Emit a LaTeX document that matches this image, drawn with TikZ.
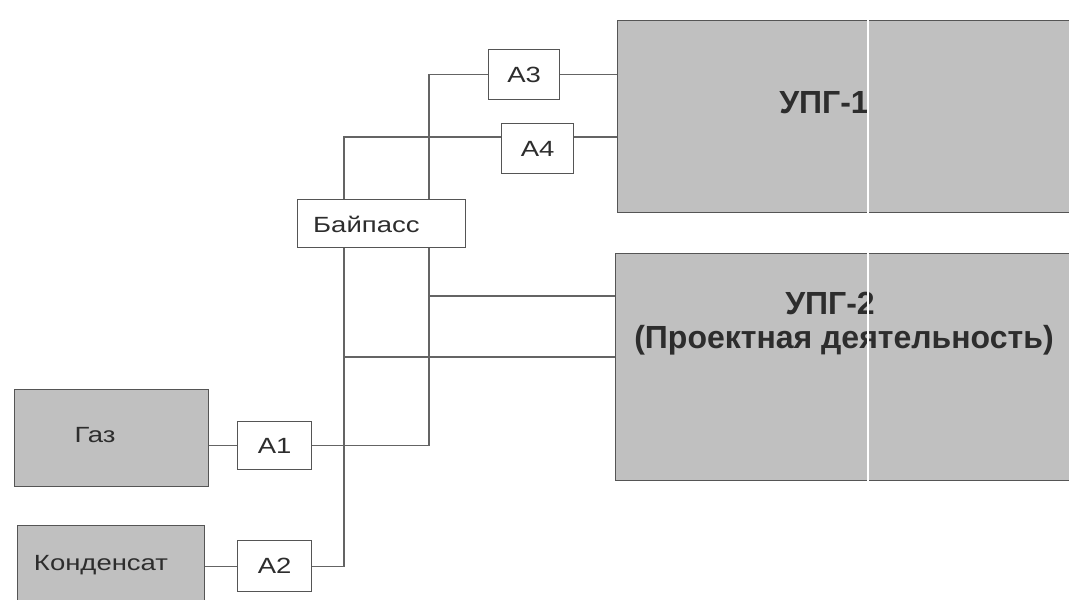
\documentclass[tikz,border=0pt]{standalone}
\usepackage{fontspec}
\setmainfont{Liberation Sans}
\definecolor{boxgray}{RGB}{192,192,192}
\definecolor{edge}{RGB}{85,85,85}
\definecolor{wire}{RGB}{100,100,100}
\definecolor{ink}{RGB}{45,45,45}
\newcommand{\wide}[1]{\scalebox{1.25}[1]{#1}}
\begin{document}
\begin{tikzpicture}[x=1pt,y=-1pt,
  label/.style={text=ink,font=\fontsize{22}{26}\selectfont,inner sep=0pt},
  valve/.style={draw=edge,line width=1.3pt,fill=white,inner sep=0pt,text=ink,font=\fontsize{22}{26}\selectfont},
  src/.style={draw=edge,line width=1.4pt,fill=boxgray,inner sep=0pt},
  plant/.style={draw=edge,line width=1.4pt,fill=boxgray,inner sep=0pt},
  wireline/.style={draw=wire,line width=1.2pt},
  big/.style={text=ink,font=\bfseries\fontsize{32}{38}\selectfont,inner sep=0pt}]
\useasboundingbox (0,0) rectangle (1069,600);
\clip (0,0) rectangle (1069,600);
% plants
\node[plant,minimum width=480pt,minimum height=192pt,anchor=north west] (upg1) at (617,20) {};
\node[plant,minimum width=480pt,minimum height=227pt,anchor=north west] (upg2) at (615,253) {};
\node[big] (t1) at (824,103) {УПГ-1};
\node[big] (t2) at (830,303) {УПГ-2};
\node[big] (t3) at (844,340) {(Проектная деятельность)};
% sources
\node[src,minimum width=194pt,minimum height=97pt,anchor=north west] (gas) at (14,389) {};
\node[label] (gast) at (95,435) {\wide{Газ}};
\node[src,minimum width=187pt,minimum height=90pt,anchor=north west] (cond) at (17,525) {};
\node[label] (condt) at (101,565) {\wide{Конденсат}};
% valves
\node[valve,minimum width=71pt,minimum height=50pt,anchor=north west] (A3) at (488,49) {\wide{A3}};
\node[valve,minimum width=72pt,minimum height=50pt,anchor=north west] (A4) at (501,123) {\wide{A4}};
\node[valve,minimum width=168pt,minimum height=48pt,anchor=north west] (byp) at (297,199) {};
\node[label,anchor=west] (bypt) at (313,224) {\wide{Байпасс}};
\node[valve,minimum width=74pt,minimum height=48pt,anchor=north west] (A1) at (237,421) {\wide{A1}};
\node[valve,minimum width=74pt,minimum height=51pt,anchor=north west] (A2) at (237,540) {\wide{A2}};
% junction coordinates
\coordinate (xr) at (429,0);
\coordinate (xl) at (344,0);
\coordinate (y137) at (0,137);
\coordinate (y296) at (0,296);
\coordinate (y357) at (0,357);
% connectors
\draw[wireline] (A3.east) -- (A3.east -| upg1.west);
\draw[wireline] (A3.west) -- (A3.west -| xr) -- (byp.north -| xr);
\draw[wireline] (A4.west |- y137) -- (xl |- y137) -- (byp.north -| xl);
\draw[wireline] (A4.east |- y137) -- (upg1.west |- y137);
\draw[wireline] (byp.south -| xr) -- (A1.east -| xr) -- (A1.east);
\draw[wireline] (byp.south -| xl) -- (A2.east -| xl) -- (A2.east);
\draw[wireline] (xr |- y296) -- (upg2.west |- y296);
\draw[wireline] (xl |- y357) -- (upg2.west |- y357);
\draw[wireline] (gas.east |- A1.west) -- (A1.west);
\draw[wireline] (cond.east |- A2.west) -- (A2.west);
% scan artifact
\draw[white,line width=1.5pt] (868,0) -- (868,600);
\end{tikzpicture}
\end{document}
